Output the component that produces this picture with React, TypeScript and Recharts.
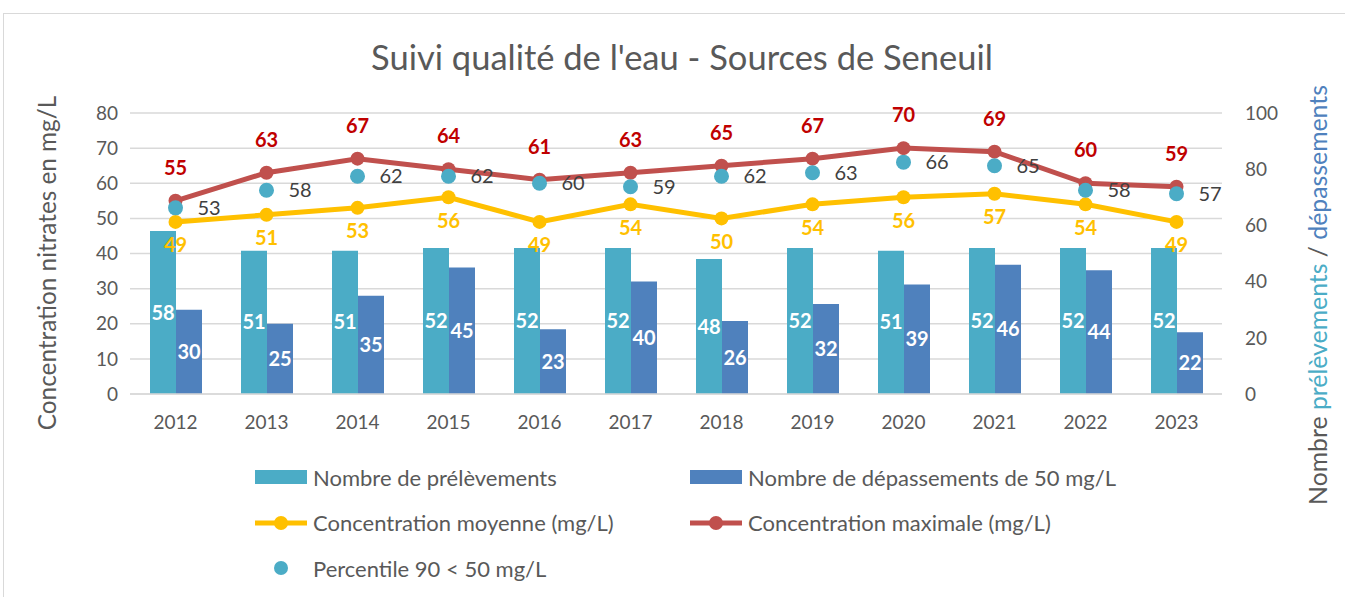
import { ComposedChart, Bar, Line, XAxis, YAxis, CartesianGrid, LabelList, Label } from "recharts";

const years = ["2012", "2013", "2014", "2015", "2016", "2017", "2018", "2019", "2020", "2021", "2022", "2023"];
const prelevements = [58, 51, 51, 52, 52, 52, 48, 52, 51, 52, 52, 52];
const depassements = [30, 25, 35, 45, 23, 40, 26, 32, 39, 46, 44, 22];
const concMoyenne = [49, 51, 53, 56, 49, 54, 50, 54, 56, 57, 54, 49];
const concMax = [55, 63, 67, 64, 61, 63, 65, 67, 70, 69, 60, 59];
const percentile90 = [53, 58, 62, 62, 60, 59, 62, 63, 66, 65, 58, 57];

const leftTicks = [0, 10, 20, 30, 40, 50, 60, 70, 80];
const rightTicks = [0, 20, 40, 60, 80, 100];

const data = years.map((year, i) => ({
  year,
  prelevements: prelevements[i],
  depassements: depassements[i],
  moyenne: concMoyenne[i],
  max: concMax[i],
  p90: percentile90[i],
}));

const FONT = "Lato, 'Open Sans', sans-serif";
const GREY = "#595959";
const TEAL = "#4BACC6";
const BLUE = "#4F81BD";
const GOLD = "#FFC000";
const RED = "#C0504D";

const tickStyle = { fill: GREY, fontSize: 19, fontFamily: FONT };

function LegendItem({ kind, color, text }: { kind: string; color: string; text: string }) {
  return (
    <div style={{ display: "flex", alignItems: "center", height: 26, whiteSpace: "nowrap" }}>
      <svg width={56} height={20} style={{ marginRight: 2, flexShrink: 0 }}>
        {kind === "rect" && <rect x={0} y={3} width={52} height={14} fill={color} />}
        {kind === "line" && (
          <>
            <line x1={0} y1={10} x2={52} y2={10} stroke={color} strokeWidth={5} />
            <circle cx={26} cy={10} r={7} fill={color} />
          </>
        )}
        {kind === "dot" && <circle cx={26} cy={10} r={7} fill={color} />}
      </svg>
      <span>{text}</span>
    </div>
  );
}

export default function App() {
  return (
    <div style={{ position: "absolute", left: 0, top: 0, width: 1345, height: 597, background: "#fff", fontFamily: FONT, overflow: "hidden" }}>
      <div style={{ position: "absolute", left: 3, top: 13, width: 1400, height: 700, border: "1px solid #D9D9D9" }} />
      <div style={{ position: "absolute", left: 0, top: 36, width: 1364, textAlign: "center", fontSize: 34.5, color: GREY }}>
        Suivi qualité de l'eau - Sources de Seneuil
      </div>
      <div style={{ position: "absolute", left: 0, top: 0 }}>
        <ComposedChart width={1345} height={597} data={data} margin={{ top: 113, right: 33, bottom: 163, left: 40 }} barGap={0}>
          <CartesianGrid vertical={false} stroke="#D9D9D9" strokeWidth={1.5} yAxisId="left" />
          <XAxis dataKey="year" height={40} tickLine={false} tickSize={0} tickMargin={22} axisLine={{ stroke: "#D9D9D9", strokeWidth: 1.5 }} tick={tickStyle} />
          <YAxis yAxisId="left" orientation="left" width={90} domain={[0, 80]} ticks={leftTicks} tickLine={false} axisLine={false} tickSize={0} tickMargin={12} tick={tickStyle}>
            <Label
              content={() => (
                <text x={56} y={263} transform="rotate(-90 56 263)" textAnchor="middle" fill={GREY} fontSize={24.3} fontFamily={FONT}>
                  Concentration nitrates en mg/L
                </text>
              )}
            />
          </YAxis>
          <YAxis yAxisId="right" orientation="right" width={90} domain={[0, 100]} ticks={rightTicks} tickLine={false} axisLine={false} tickSize={0} tickMargin={23} tick={{ ...tickStyle, textAnchor: "start" }}>
            <Label
              content={() => (
                <text x={1327} y={295} transform="rotate(-90 1327 295)" textAnchor="middle" fill={GREY} fontSize={24.8} fontFamily={FONT}>
                  <tspan>Nombre </tspan>
                  <tspan fill={TEAL}>prélèvements</tspan>
                  <tspan> / </tspan>
                  <tspan fill={BLUE}>dépassements</tspan>
                </text>
              )}
            />
          </YAxis>
          <Bar yAxisId="right" dataKey="prelevements" fill={TEAL} barSize={26} isAnimationActive={false}>
            <LabelList dataKey="prelevements" position="center" fill="#fff" fontWeight="bold" fontSize={20} fontFamily={FONT} />
          </Bar>
          <Bar yAxisId="right" dataKey="depassements" fill={BLUE} barSize={26} isAnimationActive={false}>
            <LabelList dataKey="depassements" position="center" fill="#fff" fontWeight="bold" fontSize={20} fontFamily={FONT} />
          </Bar>
          <Line yAxisId="left" dataKey="moyenne" stroke={GOLD} strokeWidth={5} dot={{ r: 7, fill: GOLD, stroke: GOLD, strokeWidth: 0 }} isAnimationActive={false}>
            <LabelList dataKey="moyenne" position="bottom" offset={16} fill={GOLD} fontWeight="bold" fontSize={20} fontFamily={FONT} />
          </Line>
          <Line yAxisId="left" dataKey="max" stroke={RED} strokeWidth={5} dot={{ r: 7, fill: RED, stroke: RED, strokeWidth: 0 }} isAnimationActive={false}>
            <LabelList dataKey="max" position="top" offset={26} fill="#C00000" fontWeight="bold" fontSize={20} fontFamily={FONT} />
          </Line>
          <Line yAxisId="left" dataKey="p90" stroke="none" strokeWidth={0} dot={{ r: 7.5, fill: TEAL, stroke: "none" }} activeDot={false} isAnimationActive={false}>
            <LabelList dataKey="p90" position="right" offset={22} fill="#404040" fontSize={20} fontFamily={FONT} />
          </Line>
        </ComposedChart>
      </div>
      <div style={{ position: "absolute", left: 255, top: 464, fontSize: 22, color: GREY, display: "grid", gridTemplateColumns: "435px 500px", rowGap: 19.5 }}>
        <LegendItem kind="rect" color={TEAL} text="Nombre de prélèvements" />
        <LegendItem kind="rect" color={BLUE} text="Nombre de dépassements de 50 mg/L" />
        <LegendItem kind="line" color={GOLD} text="Concentration moyenne (mg/L)" />
        <LegendItem kind="line" color={RED} text="Concentration maximale (mg/L)" />
        <LegendItem kind="dot" color={TEAL} text="Percentile 90 < 50 mg/L" />
      </div>
    </div>
  );
}
